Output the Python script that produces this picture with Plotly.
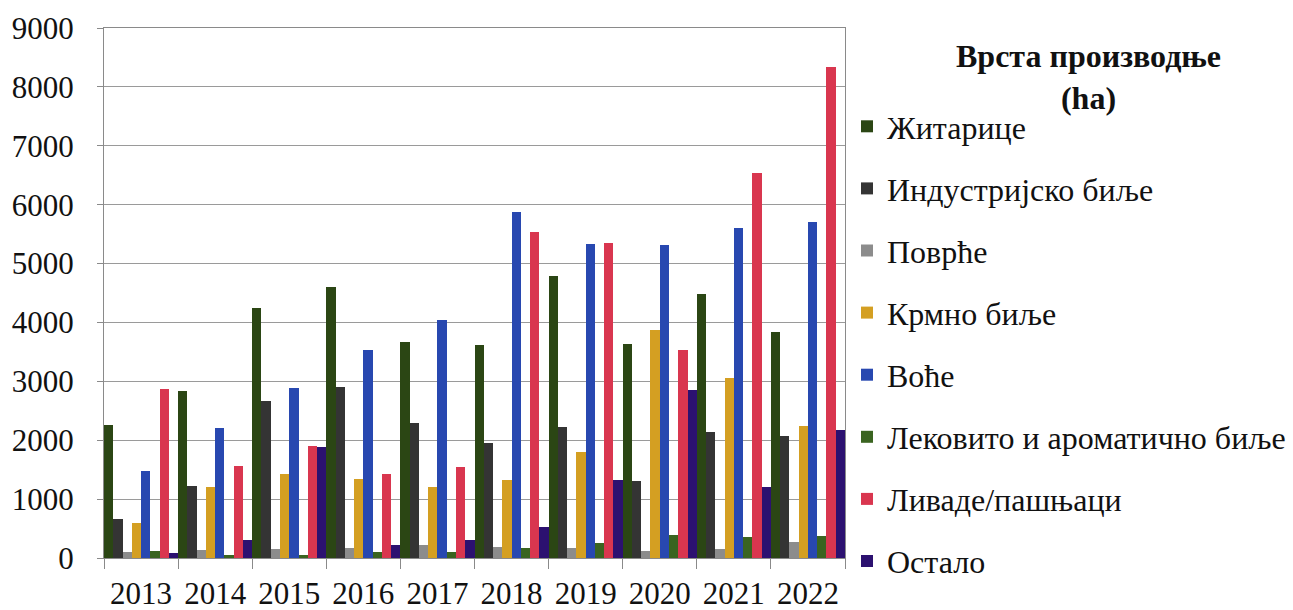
import plotly.graph_objects as go

years = ["2013", "2014", "2015", "2016", "2017", "2018", "2019", "2020", "2021", "2022"]

zitarice = [2265, 2830, 4240, 4600, 3660, 3610, 4790, 3630, 4480, 3840]
industrijsko = [670, 1230, 2660, 2910, 2290, 1950, 2220, 1300, 2140, 2070]
povrce = [100, 140, 160, 175, 215, 190, 170, 125, 160, 280]
krmno = [595, 1200, 1430, 1345, 1200, 1330, 1800, 3880, 3050, 2250]
voce = [1480, 2205, 2890, 3530, 4050, 5880, 5330, 5310, 5610, 5710]
lekovito = [125, 55, 45, 100, 95, 170, 255, 395, 360, 370]
livade = [2875, 1555, 1895, 1430, 1540, 5540, 5350, 3530, 6530, 8330]
ostalo = [85, 310, 1880, 215, 300, 525, 1330, 2855, 1200, 2175]

series_names = ["Житарице", "Индустријско биље", "Поврће", "Крмно биље", "Воће",
                "Лековито и ароматично биље", "Ливаде/пашњаци", "Остало"]
series_values = [zitarice, industrijsko, povrce, krmno, voce, lekovito, livade, ostalo]
colors = ["#2b4614", "#343434", "#8c8c8c", "#d49f22", "#2848b0", "#3a6420", "#d9364f", "#2c1170"]

FONT = "Liberation Serif"

# plot area in pixels
L, R, T, B = 104, 845, 28, 558
W, H = R - L, B - T

fig = go.Figure()
for i, (name, vals, col) in enumerate(zip(series_names, series_values, colors)):
    fig.add_trace(go.Bar(
        x=years, y=vals, name=name, marker=dict(color=col, line=dict(width=0)),
        legendgroup=f"g{i}",
    ))

fig.update_layout(
    width=1293, height=610,
    margin=dict(l=L, r=1293 - R, t=T, b=610 - B, autoexpand=False),
    barmode="group", bargap=0.0, bargroupgap=0.0,
    paper_bgcolor="white", plot_bgcolor="white",
    font=dict(family=FONT, color="#111111", size=31),
    showlegend=True,
    legend=dict(
        x=(847 - L) / W, xanchor="left", y=(B - 99) / H, yanchor="top",
        font=dict(family=FONT, size=32, color="#111111"),
        tracegroupgap=17.5, maxheight=600,
        bgcolor="rgba(0,0,0,0)",
    ),
    annotations=[dict(
        x=(1088 - L) / W, y=(B - 77) / H, xref="paper", yref="paper", showarrow=False,
        xanchor="center", yanchor="middle",
        text="<b>Врста производње</b><br><b>(ha)</b>",
        font=dict(family=FONT, size=32, color="#111111"),
    )],
)

fig.update_yaxes(
    range=[0, 9000], dtick=1000, showgrid=True, gridcolor="#9a9a9a", gridwidth=1,
    showline=True, linecolor="#8a8a8a", linewidth=1, mirror=True,
    ticks="outside", ticklen=6, tickcolor="#8a8a8a", ticklabelstandoff=17,
    tickfont=dict(family=FONT, size=31, color="#111111"), zeroline=False,
)
fig.update_xaxes(
    showline=True, linecolor="#8a8a8a", linewidth=1, mirror=True,
    ticks="outside", ticklen=10, tickcolor="#8a8a8a", tickson="boundaries",
    ticklabelstandoff=8,
    tickfont=dict(family=FONT, size=31, color="#111111"),
)

fig.write_html("out.html", config={"displayModeBar": False},
               post_script="document.body.style.margin='0';")
